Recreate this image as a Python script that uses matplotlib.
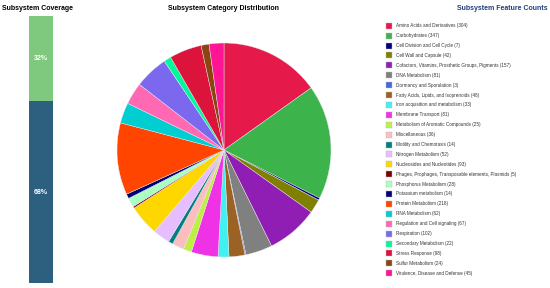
import matplotlib
matplotlib.use("Agg")
import matplotlib.pyplot as plt
from matplotlib.patches import Rectangle

plt.rcParams['font.family'] = ['Liberation Sans', 'DejaVu Sans']

categories = [
    "Amino Acids and Derivatives", "Carbohydrates", "Cell Division and Cell Cycle",
    "Cell Wall and Capsule", "Cofactors, Vitamins, Prosthetic Groups, Pigments",
    "DNA Metabolism", "Dormancy and Sporulation", "Fatty Acids, Lipids, and Isoprenoids",
    "Iron acquisition and metabolism", "Membrane Transport",
    "Metabolism of Aromatic Compounds", "Miscellaneous", "Motility and Chemotaxis",
    "Nitrogen Metabolism", "Nucleosides and Nucleotides",
    "Phages, Prophages, Transposable elements, Plasmids", "Phosphorus Metabolism",
    "Potassium metabolism", "Protein Metabolism", "RNA Metabolism",
    "Regulation and Cell signaling", "Respiration", "Secondary Metabolism",
    "Stress Response", "Sulfur Metabolism", "Virulence, Disease and Defense",
]
counts = [304, 347, 7, 42, 157, 81, 3, 48, 33, 81, 25, 36, 14, 52, 93, 5, 28, 14,
          218, 62, 67, 102, 22, 98, 24, 45]
colors = [
    "#E6194B", "#3CB44B", "#000080", "#808000", "#911EB4", "#808080", "#4169E1",
    "#9A6324", "#42F0F0", "#F032E6", "#BFEF45", "#FABEBE", "#008080", "#E6BEFF",
    "#FFD700", "#800000", "#AAFFC3", "#000075", "#FF4500", "#00CED1", "#FF69B4",
    "#7B68EE", "#00FA9A", "#DC143C", "#8B4513", "#FF1493",
]
coverage_labels = ["In subsystem", "Not in subsystem"]
coverage_values = [68, 32]
coverage_colors = ["#2D5F7E", "#7FC97F"]

W, H = 550, 288
fig = plt.figure(figsize=(5.5, 2.88), dpi=100)

# Coverage bar
axb = fig.add_axes([29 / W, 5 / H, 24 / W, 267 / H])
bottom = 0
for v, c in zip(coverage_values, coverage_colors):
    axb.bar(0, v, bottom=bottom, width=1.0, color=c)
    axb.text(0, bottom + v / 2, f"{v}%", ha="center", va="center",
             color="white", fontsize=5, fontweight="bold")
    bottom += v
axb.set_xlim(-0.5, 0.5)
axb.set_ylim(0, sum(coverage_values))
axb.axis("off")
fig.text(38 / W, 1 - 8 / H, "Subsystem Coverage", ha="center", va="center",
         fontsize=5, fontweight="bold")

# Pie
cx, cy, r = 224, 150, 107
axp = fig.add_axes([(cx - r) / W, (H - cy - r) / H, 2 * r / W, 2 * r / H])
axp.pie(counts, colors=colors, startangle=90, counterclock=False, radius=1,
        wedgeprops=dict(edgecolor="#E8E8F0", linewidth=0.3))
axp.set_xlim(-1, 1)
axp.set_ylim(-1, 1)
axp.set_aspect("equal")
fig.text(224 / W, 1 - 8 / H, "Subsystem Category Distribution", ha="center",
         va="center", fontsize=5, fontweight="bold")

# Legend
axl = fig.add_axes([0, 0, 1, 1])
axl.set_xlim(0, W)
axl.set_ylim(H, 0)
axl.axis("off")
axl.text(502, 8, "Subsystem Feature Counts", ha="center", va="center",
         fontsize=5, fontweight="bold", color="#1F3F7A")
y0, dy = 25.7, 9.9
for i, (name, n, c) in enumerate(zip(categories, counts, colors)):
    y = y0 + i * dy
    axl.add_patch(Rectangle((386, y - 3), 6, 6, facecolor=c, edgecolor="#BBBBBB",
                            linewidth=0.3))
    axl.text(396.5, y, f"{name} ({n})", ha="left", va="center", fontsize=3.3,
             color="#333333")

fig.savefig("out.png", dpi=100)
